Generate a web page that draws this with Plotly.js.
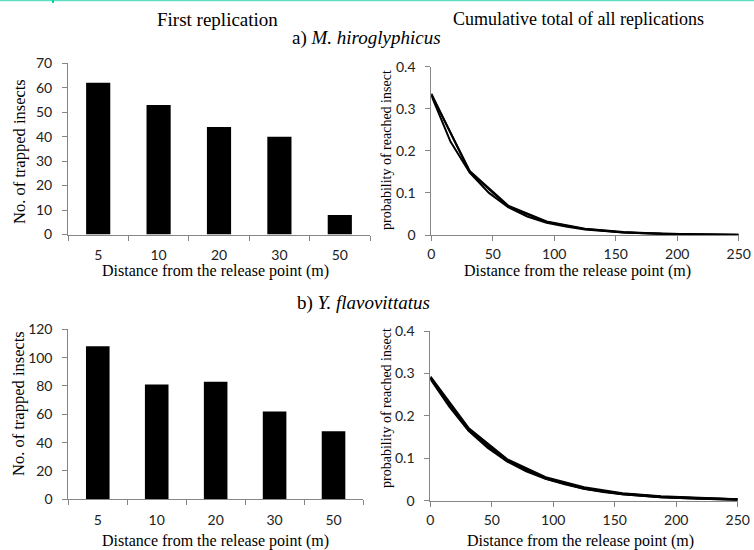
<!DOCTYPE html>
<html>
<head>
<meta charset="utf-8">
<script src="https://cdn.plot.ly/plotly-3.0.1.min.js"></script>
<style>html,body{margin:0;padding:0;background:#fff}#chart{width:754px;height:550px}</style>
</head>
<body>
<div id="chart"></div>
<script>
// ---- data ----
var distCats = ["5", "10", "20", "30", "50"];
var trappedA = [62, 53, 44, 40, 8];
var trappedB = [108, 81, 83, 62, 48];

var xCoarse = [0, 31.25, 62.5, 93.75, 125, 156.25, 187.5, 218.75, 250];
var xFine = [0, 15.6, 31.25, 46.9, 62.5, 78.1, 93.75, 109.4, 125, 140.6, 156.25, 171.9, 187.5, 203.1, 212];
var xFineB = [0, 15.6, 31.25, 46.9, 62.5, 78.1, 93.75, 109.4, 125, 140.6, 156.25, 171.9, 187.5, 203.1, 218.75, 234.4, 250];

var probA1 = [0.336, 0.150, 0.068, 0.031, 0.014, 0.006, 0.003, 0.001, 0.0005];
var probA2 = [0.332, 0.222, 0.148, 0.100, 0.066, 0.044, 0.029, 0.020, 0.013, 0.009, 0.006, 0.004, 0.003, 0.002, 0.0015];
var probA3 = [0.334, 0.152, 0.070, 0.032, 0.015, 0.007, 0.003, 0.0015, 0.0007];

var probB1 = [0.290, 0.167, 0.094, 0.053, 0.029, 0.016, 0.009, 0.005, 0.003];
var probB2 = [0.288, 0.222, 0.165, 0.125, 0.093, 0.070, 0.052, 0.039, 0.029, 0.021, 0.016, 0.012, 0.009, 0.007, 0.005, 0.004, 0.003];
var probB3 = [0.292, 0.170, 0.097, 0.055, 0.031, 0.017, 0.010, 0.006, 0.003];

var barTicksA = [0, 10, 20, 30, 40, 50, 60, 70];
var barTicksB = [0, 20, 40, 60, 80, 100, 120];
var probTicks = [0, 0.1, 0.2, 0.3, 0.4];
var distTicks = [0, 50, 100, 150, 200, 250];

// ---- styles ----
var W = 754, H = 550;
function px(x) { return x / W; }
function py(y) { return 1 - y / H; }
var AX = '#868686';
var tickFont = {family: 'Lato, "Open Sans", sans-serif', size: 14, color: '#222'};
var serif = 'Liberation Serif, "Times New Roman", serif';

function lineTrace(x, y, xa, ya, w) {
  return {type: 'scatter', mode: 'lines', x: x, y: y, xaxis: xa, yaxis: ya,
    line: {color: '#000', width: w}, showlegend: false, hoverinfo: 'skip'};
}

var traces = [
  {type: 'bar', x: distCats, y: trappedA, xaxis: 'x', yaxis: 'y', marker: {color: '#000'}, showlegend: false},
  lineTrace(xCoarse, probA1, 'x2', 'y2', 2),
  lineTrace(xFine, probA2, 'x2', 'y2', 2),
  lineTrace(xCoarse, probA3, 'x2', 'y2', 2),
  {type: 'bar', x: distCats, y: trappedB, xaxis: 'x3', yaxis: 'y3', marker: {color: '#000'}, showlegend: false},
  lineTrace(xCoarse, probB1, 'x4', 'y4', 2.5),
  lineTrace(xFineB, probB2, 'x4', 'y4', 2.5),
  lineTrace(xCoarse, probB3, 'x4', 'y4', 2.5)
];

function catX(dom, anchor) {
  return {domain: dom, anchor: anchor, type: 'category', categoryorder: 'array', categoryarray: distCats,
    range: [-0.5, 4.5], showline: true, linecolor: AX, linewidth: 1, ticks: 'outside', tickson: 'boundaries',
    ticklen: 5, tickcolor: AX, showgrid: false, zeroline: false, tickfont: tickFont, ticklabelstandoff: 8, fixedrange: true};
}
function numX(dom, anchor) {
  return {domain: dom, anchor: anchor, range: [0, 250], tickvals: distTicks, ticktext: distTicks.map(String),
    showline: true, linecolor: AX, linewidth: 1, ticks: 'outside', ticklen: 5, tickcolor: AX,
    showgrid: false, zeroline: false, tickfont: tickFont, ticklabelstandoff: 1, fixedrange: true};
}
function numY(dom, anchor, range, vals) {
  return {domain: dom, anchor: anchor, range: range, tickvals: vals, ticktext: vals.map(String),
    showline: true, linecolor: AX, linewidth: 1, ticks: 'outside', ticklen: 5, tickcolor: AX,
    showgrid: false, zeroline: false, tickfont: tickFont, ticklabelstandoff: 7, fixedrange: true};
}

function ann(text, x, y, size, rot) {
  return {text: text, xref: 'paper', yref: 'paper', x: px(x), y: py(y), xanchor: 'center', yanchor: 'middle',
    showarrow: false, textangle: rot || 0, font: {family: serif, size: size, color: '#000'}};
}

var layout = {
  width: W, height: H, margin: {l: 0, r: 0, t: 0, b: 0}, paper_bgcolor: '#fff', plot_bgcolor: '#fff',
  showlegend: false, bargap: 0.6,
  xaxis: catX([px(68), px(370)], 'y'),
  yaxis: numY([py(234.5), py(63.3)], 'x', [0, 70], barTicksA),
  xaxis2: numX([px(431.3), px(738.7)], 'y2'),
  yaxis2: numY([py(235), py(66.7)], 'x2', [0, 0.4], probTicks),
  xaxis3: catX([px(68.3), px(363)], 'y3'),
  yaxis3: numY([py(499.3), py(329.3)], 'x3', [0, 120], barTicksB),
  xaxis4: numX([px(430.3), px(737.7)], 'y4'),
  yaxis4: numY([py(500.7), py(331)], 'x4', [0, 0.4], probTicks),
  annotations: [
    ann('First replication', 217, 19, 19),
    ann('Cumulative total of all replications', 578, 19, 18),
    ann('a) <i>M. hiroglyphicus</i>', 366, 38, 19),
    ann('b) <i>Y. flavovittatus</i>', 363, 303, 19),
    ann('Distance from the release point (m)', 215, 271, 16),
    ann('Distance from the release point (m)', 577, 271, 16),
    ann('Distance from the release point (m)', 215, 541, 16),
    ann('Distance from the release point (m)', 580, 541, 16),
    ann('No. of trapped insects', 19, 152, 16.5, -90),
    ann('No. of trapped insects', 18, 404, 16.5, -90),
    ann('probability of reached insect', 386, 150, 14, -90),
    ann('probability of reached insect', 386, 408, 14, -90)
  ],
  shapes: [
    {type: 'line', xref: 'paper', yref: 'paper', x0: 0, x1: 1, y0: py(0.5), y1: py(0.5), line: {color: '#5ddfc3', width: 1.5}},
    {type: 'line', xref: 'paper', yref: 'paper', x0: px(53), x1: px(53), y0: py(0), y1: py(3), line: {color: '#00d4a0', width: 2}}
  ]
};

Plotly.newPlot('chart', traces, layout, {staticPlot: true, displayModeBar: false});
</script>
</body>
</html>
